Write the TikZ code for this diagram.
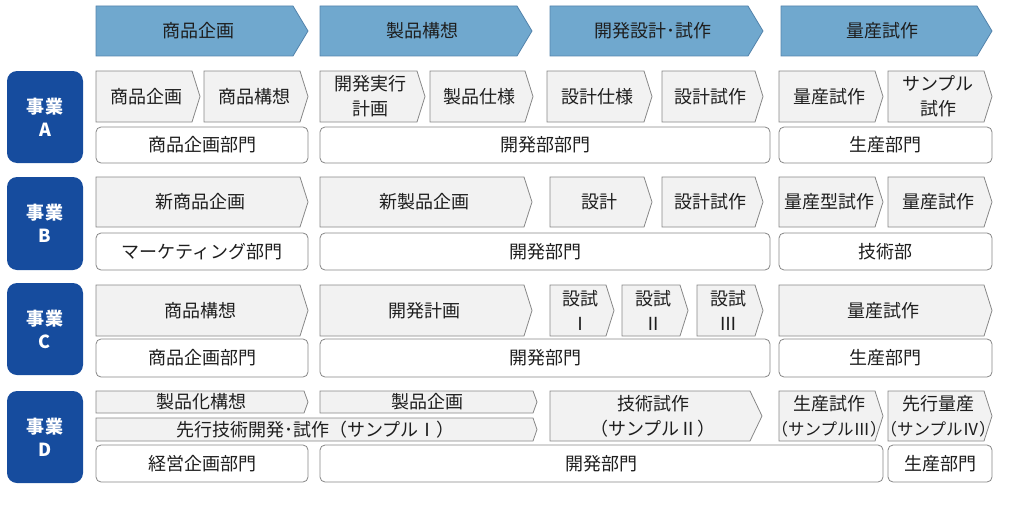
\documentclass[tikz,border=0pt]{standalone}
\usepackage{fontspec}
\setmainfont{Noto Sans CJK JP}
\definecolor{hdrfill}{RGB}{112,168,206}
\definecolor{hdrline}{RGB}{84,132,172}
\definecolor{bizblue}{RGB}{22,76,158}
\definecolor{chvfill}{RGB}{242,242,242}
\definecolor{chvline}{RGB}{135,135,135}
\definecolor{txtcol}{RGB}{30,30,30}
% #1 name, #2 style, #3 x1, #4 x2 (tip), #5 y1, #6 y2, #7 tip depth, #8 text
\newcommand\chevshape[8]{%
  \draw[#2] (#3,#5) -- ({#4-#7},#5) -- (#4,{(#5+#6)/2}) -- ({#4-#7},#6) -- (#3,#6) -- cycle;
  \node[txt] (#1) at ({(#3+#4-#7/2)/2},{(#5+#6)/2}) {#8};
}
% #1 name, #2 x1, #3 x2, #4 y1, #5 y2, #6 text
\newcommand\deptbox[6]{%
  \node[dept, minimum width={(#3-#2)*1pt}, minimum height={(#5-#4)*1pt}] (#1) at ({(#2+#3)/2},{(#4+#5)/2}) {#6};
}
\newcommand\bizbox[4]{%
  \node[biz, minimum width=76pt, minimum height={(#3-#2)*1pt}] (#1) at (45,{(#2+#3)/2}) {事業\\#4};
}
\newcommand\smallline[1]{{\fontsize{16.5}{25}\selectfont #1}}
\begin{document}
\begin{tikzpicture}[x=1pt,y=-1pt,
  hdr/.style={draw=hdrline, fill=hdrfill, line width=0.8pt, line join=miter},
  chv/.style={draw=chvline, fill=chvfill, line width=0.8pt},
  txt/.style={inner sep=0pt, align=center, text=txtcol, font=\fontsize{18}{25}\selectfont},
  dept/.style={draw=chvline, fill=white, rounded corners=5pt, line width=0.8pt, inner sep=0pt,
    text=txtcol, font=\fontsize{18}{25}\selectfont},
  biz/.style={fill=bizblue, rounded corners=10pt, inner sep=0pt, text=white, align=center,
    font=\fontsize{18}{23}\selectfont\bfseries}]
\useasboundingbox (0,0) rectangle (1035,527);
% header
\chevshape{h1}{hdr}{96}{308}{6}{56}{15}{商品企画}
\chevshape{h2}{hdr}{320}{532}{6}{56}{15}{製品構想}
\chevshape{h3}{hdr}{550}{763}{6}{56}{15}{開発設計･試作}
\chevshape{h4}{hdr}{781}{992}{6}{56}{15}{量産試作}
% row A
\bizbox{bizA}{71}{163}{A}
\chevshape{a1}{chv}{96}{200}{71}{122}{8}{商品企画}
\chevshape{a2}{chv}{204}{308}{71}{122}{8}{商品構想}
\chevshape{a3}{chv}{320}{425}{71}{122}{8}{開発実行\\計画}
\chevshape{a4}{chv}{430}{533}{71}{122}{8}{製品仕様}
\chevshape{a5}{chv}{547}{652}{71}{122}{8}{設計仕様}
\chevshape{a6}{chv}{662}{763}{71}{122}{8}{設計試作}
\chevshape{a7}{chv}{779}{883}{71}{122}{8}{量産試作}
\chevshape{a8}{chv}{888}{992}{71}{122}{8}{サンプル\\試作}
\deptbox{ad1}{96}{308}{127}{163}{商品企画部門}
\deptbox{ad2}{320}{770}{127}{163}{開発部部門}
\deptbox{ad3}{779}{992}{127}{163}{生産部門}
% row B
\bizbox{bizB}{177}{270}{B}
\chevshape{b1}{chv}{96}{308}{177}{227}{8}{新商品企画}
\chevshape{b2}{chv}{320}{532}{177}{227}{8}{新製品企画}
\chevshape{b3}{chv}{550}{652}{177}{227}{8}{設計}
\chevshape{b4}{chv}{662}{763}{177}{227}{8}{設計試作}
\chevshape{b5}{chv}{779}{883}{177}{227}{8}{量産型試作}
\chevshape{b6}{chv}{888}{992}{177}{227}{8}{量産試作}
\deptbox{bd1}{96}{308}{233}{270}{マーケティング部門}
\deptbox{bd2}{320}{770}{233}{270}{開発部門}
\deptbox{bd3}{779}{992}{233}{270}{技術部}
% row C
\bizbox{bizC}{283}{375}{C}
\chevshape{c1}{chv}{96}{308}{285}{336}{8}{商品構想}
\chevshape{c2}{chv}{320}{532}{285}{336}{8}{開発計画}
\chevshape{c3}{chv}{550}{614}{285}{336}{8}{設試\\Ⅰ}
\chevshape{c4}{chv}{622}{688}{285}{336}{8}{設試\\Ⅱ}
\chevshape{c5}{chv}{697}{763}{285}{336}{8}{設試\\Ⅲ}
\chevshape{c6}{chv}{779}{992}{285}{336}{8}{量産試作}
\deptbox{cd1}{96}{308}{339}{377}{商品企画部門}
\deptbox{cd2}{320}{770}{339}{377}{開発部門}
\deptbox{cd3}{779}{992}{339}{377}{生産部門}
% row D
\bizbox{bizD}{391}{483}{D}
\chevshape{d1}{chv}{96}{308}{391}{413}{4}{製品化構想}
\chevshape{d2}{chv}{320}{537}{391}{413}{4}{製品企画}
\chevshape{d3}{chv}{96}{537}{418}{441}{4}{先行技術開発･試作（サンプルⅠ）}
\chevshape{d4}{chv}{550}{762}{391}{441}{12}{技術試作\\（サンプルⅡ）}
\chevshape{d5}{chv}{779}{883}{391}{441}{8}{生産試作\\\smallline{（サンプルⅢ）}}
\chevshape{d6}{chv}{888}{992}{391}{441}{8}{先行量産\\\smallline{（サンプルⅣ）}}
\deptbox{dd1}{96}{308}{445}{482}{経営企画部門}
\deptbox{dd2}{320}{883}{445}{482}{開発部門}
\deptbox{dd3}{888}{992}{445}{482}{生産部門}
\end{tikzpicture}
\end{document}
